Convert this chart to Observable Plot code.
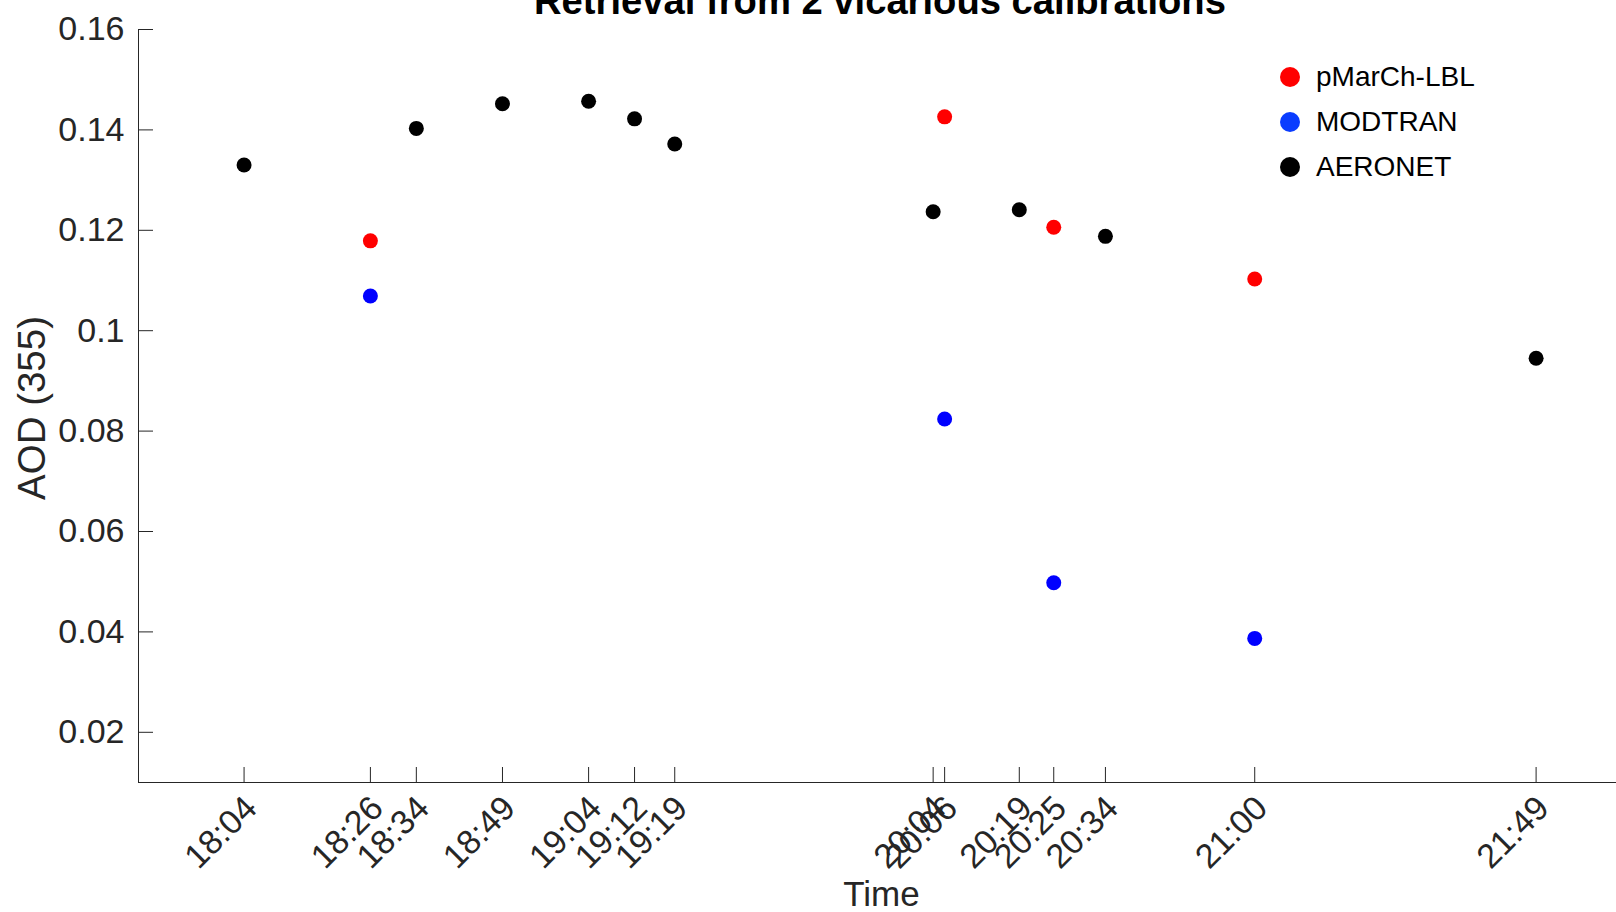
<!DOCTYPE html>
<html>
<head>
<meta charset="utf-8">
<script src="https://cdn.jsdelivr.net/npm/d3@7"></script>
<script src="https://cdn.jsdelivr.net/npm/@observablehq/plot@0.6"></script>
<style>
  html, body { margin: 0; padding: 0; background: #fff; overflow: hidden; }
  #wrap { position: relative; width: 1616px; height: 912px; font-family: "Liberation Sans", Arial, sans-serif; }
  #title { position: absolute; left: 0; width: 1760px; top: -18px; text-align: center; font-weight: bold;
           font-size: 38.2px; line-height: 38.2px; color: #000; white-space: nowrap; }
  #legend { position: absolute; left: 1280px; top: 54px; }
  .row { display: flex; align-items: center; height: 45px; }
  .sw { width: 20px; height: 20px; border-radius: 50%; margin-right: 16px; }
  .lbl { font-size: 28px; color: #000; line-height: 28px; }
</style>
</head>
<body>
<div id="wrap">
  <div id="chart"></div>
  <div id="title">Retrieval from 2 vicarious calibrations</div>
  <div id="legend"></div>
</div>
<script>
// ---- data ----
const tickLabels = ["18:04","18:26","18:34","18:49","19:04","19:12","19:19","20:04","20:06","20:19","20:25","20:34","21:00","21:49"];
const aeronetTimes = ["18:04","18:34","18:49","19:04","19:12","19:19","20:04","20:19","20:34","21:49"];
const aeronetAOD = [0.1330, 0.1403, 0.1452, 0.1457, 0.1422, 0.1372, 0.1237, 0.1241, 0.1188, 0.0945];
const retrievalTimes = ["18:26","20:06","20:25","21:00"];
const pmarchAOD = [0.1179, 0.1426, 0.1206, 0.1103];
const modtranAOD = [0.1069, 0.0824, 0.0498, 0.0387];
const seriesNames = ["pMarCh-LBL", "MODTRAN", "AERONET"];
const seriesColors = ["#ff0000", "#0000ff", "#000000"];
const legendColors = ["#ff0000", "#0a3cff", "#000000"];
const xDomain = ["17:45:37", "22:03:00"];
const yDomain = [0.01, 0.16];
const yTicks = [0.02, 0.04, 0.06, 0.08, 0.10, 0.12, 0.14, 0.16];

// ---- build ----
const t = s => { const [h, m, sec = 0] = s.split(":").map(Number); return new Date(Date.UTC(2000, 0, 1, h, m, sec)); };
const rows = [
  ...aeronetTimes.map((s, i) => ({time: t(s), aod: aeronetAOD[i], series: "AERONET"})),
  ...retrievalTimes.map((s, i) => ({time: t(s), aod: pmarchAOD[i], series: "pMarCh-LBL"})),
  ...retrievalTimes.map((s, i) => ({time: t(s), aod: modtranAOD[i], series: "MODTRAN"}))
];
const ink = "#262626";
const xTicks = tickLabels.map(t);

const chart = Plot.plot({
  width: 1616,
  height: 912,
  marginLeft: 138,
  marginRight: 0,
  marginTop: 29,
  marginBottom: 130,
  style: {fontFamily: "'Liberation Sans', Arial, sans-serif", color: ink, background: "transparent", overflow: "visible"},
  x: {type: "utc", domain: xDomain.map(t)},
  y: {domain: yDomain},
  color: {domain: seriesNames, range: seriesColors},
  marks: [
    // inward tick marks on x
    Plot.axisX({ticks: xTicks, tickFormat: () => "", tickSize: -15, label: null}),
    // rotated x tick labels
    Plot.axisX({ticks: xTicks, tickFormat: d3.utcFormat("%H:%M"), tickSize: 0, tickPadding: 20,
                tickRotate: -45, dx: 7, fontSize: 34, label: null}),
    Plot.axisY({ticks: yTicks, tickFormat: d => String(+d.toFixed(2)), tickSize: -15, tickPadding: 29,
                fontSize: 34, label: null}),
    Plot.ruleX([t(xDomain[0])], {stroke: ink}),
    Plot.ruleY([yDomain[0]], {stroke: ink}),
    Plot.text(["Time"], {frameAnchor: "bottom", textAnchor: "middle", lineAnchor: "bottom", dy: 123, dx: 4, fontSize: 35, fill: ink}),
    Plot.text(["AOD (355)"], {frameAnchor: "left", textAnchor: "middle", lineAnchor: "bottom", rotate: -90, dx: -94, dy: 2, fontSize: 38.5, fill: ink}),
    Plot.dot(rows, {x: "time", y: "aod", fill: "series", r: 7.5, stroke: "none"})
  ]
});
document.getElementById("chart").appendChild(chart);

const legend = document.getElementById("legend");
seriesNames.forEach((name, i) => {
  const row = document.createElement("div");
  row.className = "row";
  const sw = document.createElement("span");
  sw.className = "sw";
  sw.style.background = legendColors[i];
  const lbl = document.createElement("span");
  lbl.className = "lbl";
  lbl.textContent = name;
  row.appendChild(sw);
  row.appendChild(lbl);
  legend.appendChild(row);
});
</script>
</body>
</html>
